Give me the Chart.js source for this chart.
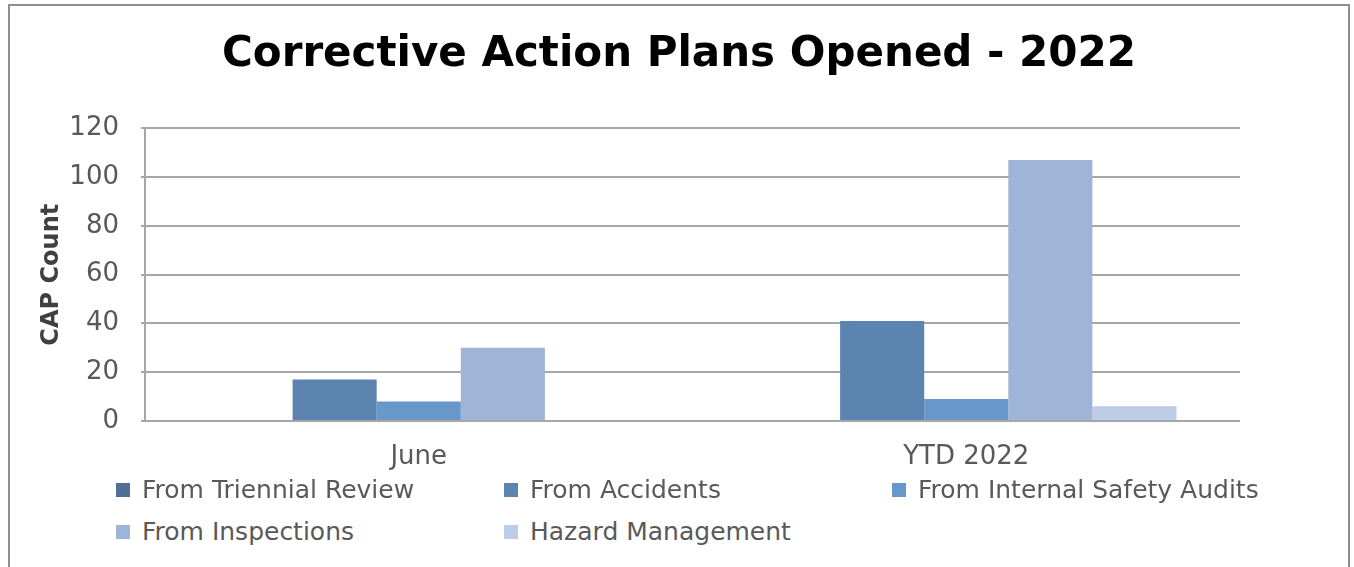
<!DOCTYPE html>
<html>
<head>
<meta charset="utf-8">
<script src="https://cdn.jsdelivr.net/npm/chart.js@4.4.0/dist/chart.umd.min.js"></script>
<style>
  body { margin: 0; background: #fff; font-family: "DejaVu Sans", sans-serif; }
  #frame { position: absolute; left: 8px; top: 4px; width: 1338px; height: 600px; border: 2px solid #8f8f8f; }
  #wrap { position: absolute; left: 0; top: 0; width: 1338px; height: 470px; }
  #legend { position: absolute; left: 106px; top: 469px; width: 1200px; }
  .item { position: absolute; display: flex; align-items: center; font-size: 25px; color: #595959; white-space: nowrap; }
  .sw { width: 14px; height: 14px; margin-right: 12px; }
</style>
</head>
<body>
<div id="frame">
  <div id="wrap"><canvas id="capChart"></canvas></div>
  <div id="legend"></div>
</div>
<script>
// chart data
var categories = ["June", "YTD 2022"];
var seriesNames = ["From Triennial Review", "From Accidents", "From Internal Safety Audits", "From Inspections", "Hazard Management"];
var triennial = [0, 0];
var accidents = [17, 41];
var safetyAudits = [8, 9];
var inspections = [30, 107];
var hazardMgmt = [0, 6];
var yTicks = [0, 20, 40, 60, 80, 100, 120];

var seriesValues = [triennial, accidents, safetyAudits, inspections, hazardMgmt];
var seriesColors = ["#4e6f98", "#5b84b1", "#6897c9", "#9eb5d8", "#bdcde6"];

var datasets = seriesNames.map(function (name, i) {
    return {
        label: name,
        data: seriesValues[i],
        backgroundColor: seriesColors[i],
        borderWidth: 0,
        barPercentage: 1,
        categoryPercentage: 0.768
    };
});

var ctx = document.getElementById("capChart").getContext("2d");
var chart = new Chart(ctx, {
    type: 'bar',
    data: { labels: categories, datasets: datasets },
    options: {
        responsive: true,
        maintainAspectRatio: false,
        animation: false,
        plugins: {
            legend: { display: false },
            tooltip: { enabled: false },
            title: {
                display: true,
                text: "Corrective Action Plans Opened - 2022",
                color: "#000",
                font: { family: "DejaVu Sans", size: 42, weight: "bold" },
                padding: { top: 24, bottom: 48 }
            }
        },
        scales: {
            x: {
                grid: { display: false },
                border: { display: false },
                ticks: { color: "#595959", font: { family: "DejaVu Sans", size: 26 }, padding: 13 },
                afterFit: function (s) { s.height = 55; }
            },
            y: {
                min: 0,
                max: 120,
                afterBuildTicks: function (s) { s.ticks = yTicks.map(function (v) { return { value: v }; }); },
                grid: { color: "#a6a6a6", lineWidth: 2, tickLength: 4 },
                border: { display: true, color: "#a6a6a6", width: 2 },
                ticks: { color: "#595959", font: { family: "DejaVu Sans", size: 26 }, padding: 22 },
                title: {
                    display: true,
                    text: "CAP Count",
                    color: "#404040",
                    font: { family: "DejaVu Sans", size: 24, weight: "bold" },
                    padding: { top: 27, bottom: 0 }
                },
                afterFit: function (s) { s.width = 135; }
            },
            // empty right-hand strip so the plot ends where the original does
            spacer: {
                position: 'right',
                grid: { display: false },
                border: { display: false },
                ticks: { display: false },
                afterFit: function (s) { s.width = 108; }
            }
        }
    }
});

// legend in three columns like the original
var legendBox = document.getElementById("legend");
chart.data.datasets.forEach(function (ds, i) {
    var item = document.createElement("div");
    item.className = "item";
    item.style.left = (i % 3) * 388 + "px";
    item.style.top = Math.floor(i / 3) * 42 + "px";
    item.innerHTML = '<span class="sw" style="background:' + ds.backgroundColor + '"></span><span>' + ds.label + '</span>';
    legendBox.appendChild(item);
});
</script>
</body>
</html>
